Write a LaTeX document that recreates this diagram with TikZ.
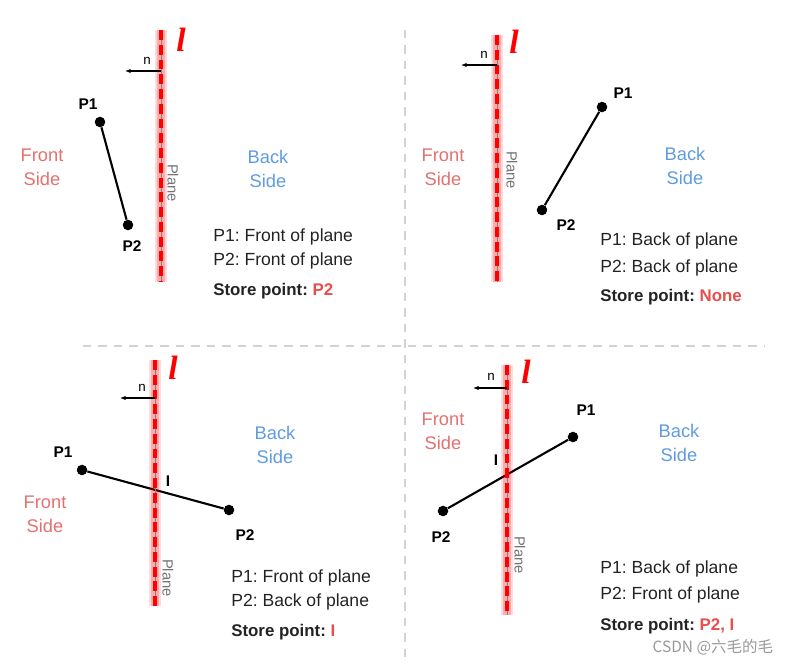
\documentclass[tikz,border=0pt]{standalone}
\usepackage{fontspec}
\setmainfont{Liberation Sans}
\newfontfamily\ellfont{Liberation Serif}
\newfontfamily\cjkfont{Noto Sans CJK SC}
\usetikzlibrary{arrows.meta}
\definecolor{frontred}{RGB}{228,112,112}
\definecolor{backblue}{RGB}{95,155,225}
\definecolor{storered}{RGB}{232,78,78}
\definecolor{inktext}{RGB}{35,35,35}
\frenchspacing

\begin{document}
\begin{tikzpicture}[x=0.025cm, y=-0.025cm,
    >=Latex,
    plane/.style={red, line width=2.6pt, dash pattern=on 7pt off 3.5pt,
      preaction={draw, solid, red, draw opacity=0.14, line width=9pt},
      preaction={draw, solid, red, draw opacity=0.22, line width=5.5pt},
      preaction={draw, solid, gray, line width=0.6pt}},
    divider/.style={gray!35, line width=1.3pt, dash pattern=on 6pt off 5pt},
    seg/.style={line width=1.5pt},
    dot/.style={circle, fill, inner sep=0pt, minimum size=7.5pt},
    nvec/.style={-{Latex[length=4pt, width=3.2pt]}, line width=0.8pt},
    ell/.style={red, font=\ellfont\bfseries\itshape\fontsize{24}{24}\selectfont},
    nlbl/.style={font=\fontsize{9.5}{9.5}\selectfont, inner sep=0pt},
    ptlbl/.style={font=\bfseries\fontsize{11}{11}\selectfont},
    frontlbl/.style={frontred, align=center, font=\fontsize{13}{17}\selectfont},
    backlbl/.style={backblue, align=center, font=\fontsize{13}{17}\selectfont},
    planelbl/.style={gray!90!black, rotate=-90, font=\fontsize{10.5}{10.5}\selectfont},
    info/.style={inktext, anchor=west, inner sep=0pt, font=\fontsize{12.5}{12.5}\selectfont},
    storeinfo/.style={info, font=\bfseries\fontsize{12}{12}\selectfont}
  ]
  \useasboundingbox (0,0) rectangle (790,666);

  % dividers between the four cases
  \coordinate (vtop) at (405,30);
  \coordinate (vbot) at (405,662);
  \coordinate (hleft) at (83,346);
  \coordinate (hright) at (765,346);
  \draw[divider] (vtop) -- (vbot);
  \draw[divider] (hleft) -- (hright);

  % top left: both points in front
  \node[dot] (a1) at (100,122) {};
  \node[dot] (a2) at (128,225) {};
  \draw[seg] (a1) -- (a2);
  \coordinate (pla) at (161,30);
  \coordinate (plb) at (161,282);
  \draw[plane] (pla) -- (plb);
  \node[ell] (la) at (181,40) {l};
  \coordinate (na) at (161,71);
  \coordinate (nta) at (125,71);
  \draw[nvec] (na) -- (nta);
  \node[nlbl] at (147,61) {n};
  \node[ptlbl] at (88,104) {P1};
  \node[ptlbl] at (132,246) {P2};
  \node[frontlbl] at (42,167) {Front\\Side};
  \node[backlbl] at (268,169) {Back\\Side};
  \node[planelbl] at (173,183) {Plane};
  \node[info] at (213,237) {P1: Front of plane};
  \node[info] at (213,261) {P2: Front of plane};
  \node[storeinfo] at (213,291) {Store point: \textcolor{storered}{P2}};

  % top right: both points behind
  \node[dot] (b1) at (602,107) {};
  \node[dot] (b2) at (542,210) {};
  \draw[seg] (b1) -- (b2);
  \coordinate (plc) at (497,35);
  \coordinate (pld) at (497,282);
  \draw[plane] (plc) -- (pld);
  \node[ell] (lb) at (514,42) {l};
  \coordinate (nb) at (497,65);
  \coordinate (ntb) at (461,65);
  \draw[nvec] (nb) -- (ntb);
  \node[nlbl] at (484,55) {n};
  \node[ptlbl] at (623,93) {P1};
  \node[ptlbl] at (566,225) {P2};
  \node[frontlbl] at (443,167) {Front\\Side};
  \node[backlbl] at (685,166) {Back\\Side};
  \node[planelbl] at (512,170) {Plane};
  \node[info] at (600,241) {P1: Back of plane};
  \node[info] at (600,268) {P2: Back of plane};
  \node[storeinfo] at (600,297) {Store point: \textcolor{storered}{None}};

  % bottom left: P1 in front, P2 behind
  \node[dot] (c1) at (82,470) {};
  \node[dot] (c2) at (229,510) {};
  \draw[seg] (c1) -- (c2);
  \coordinate (ple) at (155,360);
  \coordinate (plf) at (155,606);
  \draw[plane] (ple) -- (plf);
  \node[ell] (lc) at (173,368) {l};
  \coordinate (nc) at (155,398);
  \coordinate (ntc) at (120,398);
  \draw[nvec] (nc) -- (ntc);
  \node[nlbl] at (142,388) {n};
  \node[ptlbl] at (63,452) {P1};
  \node[ptlbl] at (245,535) {P2};
  \node[ptlbl] at (168,481) {I};
  \node[frontlbl] at (45,514) {Front\\Side};
  \node[backlbl] at (275,445) {Back\\Side};
  \node[planelbl] at (168,578) {Plane};
  \node[info] at (231,578) {P1: Front of plane};
  \node[info] at (231,602) {P2: Back of plane};
  \node[storeinfo] at (231,632) {Store point: \textcolor{storered}{I}};

  % bottom right: P1 behind, P2 in front
  \node[dot] (d1) at (573,437) {};
  \node[dot] (d2) at (443,511) {};
  \draw[seg] (d1) -- (d2);
  \coordinate (plg) at (507,365);
  \coordinate (plh) at (507,615);
  \draw[plane] (plg) -- (plh);
  \node[ell] (ld) at (526,372) {l};
  \coordinate (nd) at (507,388);
  \coordinate (ntd) at (473,388);
  \draw[nvec] (nd) -- (ntd);
  \node[nlbl] at (491,377) {n};
  \node[ptlbl] at (586,410) {P1};
  \node[ptlbl] at (441,537) {P2};
  \node[ptlbl] at (496,460) {I};
  \node[frontlbl] at (443,431) {Front\\Side};
  \node[backlbl] at (679,443) {Back\\Side};
  \node[planelbl] at (520,555) {Plane};
  \node[info] at (600,569) {P1: Back of plane};
  \node[info] at (600,595) {P2: Front of plane};
  \node[storeinfo] at (600,626) {Store point: \textcolor{storered}{P2, I}};

  \node[gray!80, anchor=east, font=\cjkfont\fontsize{11}{11}\selectfont] at (778,647) {CSDN @六毛的毛};
\end{tikzpicture}
\end{document}
